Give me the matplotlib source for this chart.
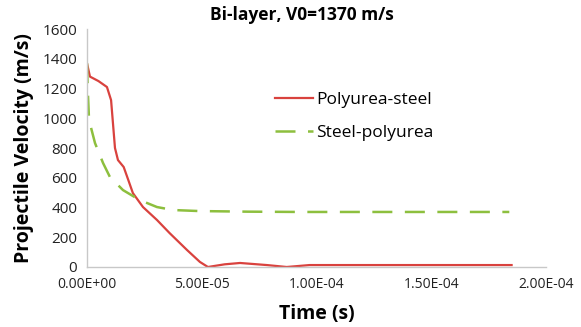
import numpy as np
import matplotlib
matplotlib.use('Agg')
import matplotlib.pyplot as plt
from matplotlib.ticker import FuncFormatter

plt.rcParams['font.family'] = ['Open Sans', 'DejaVu Sans']

# Polyurea-steel (time in s, velocity in m/s)
t_ps = [0, 1.3e-6, 5e-6, 8.7e-6, 1.05e-5, 1.22e-5, 1.35e-5, 1.6e-5, 1.8e-5, 2.0e-5,
        2.44e-5, 3.05e-5, 3.6e-5, 4.36e-5, 4.92e-5, 5.27e-5, 6.0e-5, 6.67e-5, 7.84e-5,
        8.7e-5, 9.7e-5, 1.2e-4, 1.5e-4, 1.85e-4]
v_ps = [1370, 1280, 1250, 1210, 1122, 800, 719, 672, 585, 497,
        403, 316, 228, 114, 34, 0, 18, 27, 13,
        0, 13, 13, 13, 13]

# Steel-polyurea
t_sp = [0, 4e-7, 9e-7, 3.5e-6, 7e-6, 1.0e-5, 1.57e-5, 2.3e-5, 3.05e-5, 3.75e-5,
        4.9e-5, 7.0e-5, 9.3e-5, 1.3e-4, 1.84e-4]
v_sp = [1370, 1170, 988, 833, 699, 605, 517, 450, 403, 383,
        376, 372, 370, 370, 370]

fig = plt.figure(figsize=(5.81, 3.27), dpi=100)
ax = fig.add_axes([0.1497, 0.1835, 0.7901, 0.7278])

ax.plot(t_ps, v_ps, color='#D9423E', lw=1.6, label='Polyurea-steel')
ln, = ax.plot(t_sp, v_sp, color='#8DBF3E', lw=1.8, label='Steel-polyurea')
ln.set_dashes((8, 5))

ax.set_xlim(0, 2e-4)
ax.set_ylim(0, 1600)
ax.set_xticks([0, 5e-5, 1e-4, 1.5e-4, 2e-4])
ax.set_yticks(np.arange(0, 1601, 200))
ax.xaxis.set_major_formatter(FuncFormatter(lambda v, p: ('%.2E' % v)))

for s in ['top', 'right']:
    ax.spines[s].set_visible(False)
for s in ['left', 'bottom']:
    ax.spines[s].set_color('#C8C8C8')
    ax.spines[s].set_linewidth(1.0)
ax.tick_params(length=0, colors='#222222')
ax.tick_params(axis='y', pad=7, labelsize=11)
ax.tick_params(axis='x', pad=7, labelsize=10)

ax.set_ylabel('Projectile Velocity (m/s)', fontsize=14, fontweight='bold', labelpad=6)
ax.set_xlabel('Time (s)', fontsize=14, fontweight='bold', labelpad=9)
fig.text(0.52, 0.955, 'Bi-layer, V0=1370 m/s', ha='center', va='center',
         fontsize=12.5, fontweight='bold')

ax.legend(loc='upper left', bbox_to_anchor=(0.375, 0.80), frameon=False,
          fontsize=12.5, labelspacing=0.95, handlelength=2.2, handletextpad=0.2)

fig.savefig('out.png', dpi=100)
